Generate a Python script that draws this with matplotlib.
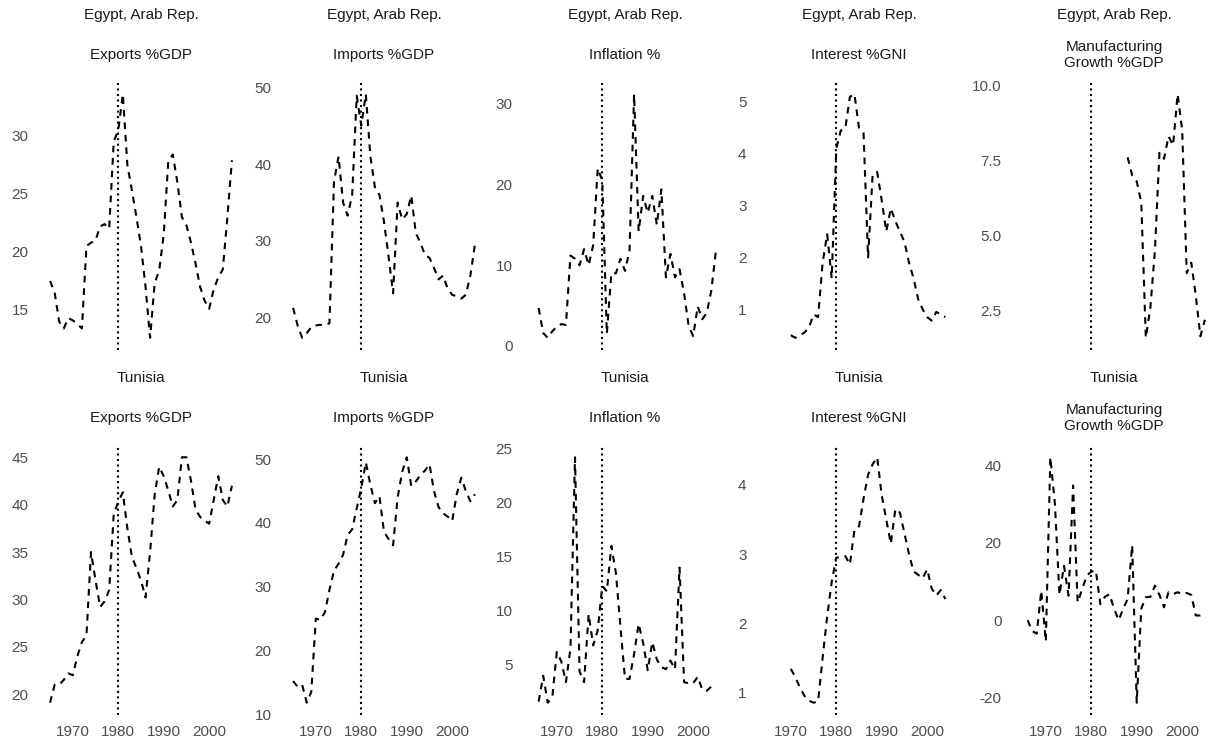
import matplotlib
matplotlib.use("Agg")
import matplotlib.pyplot as plt
import numpy as np

plt.rcParams["font.family"] = ["Liberation Sans", "DejaVu Sans"]
plt.rcParams["axes.unicode_minus"] = False

W, H = 1214, 742

countries = ["Egypt, Arab Rep.", "Tunisia"]
indicators = ["Exports %GDP", "Imports %GDP", "Inflation %", "Interest %GNI",
              "Manufacturing\nGrowth %GDP"]

# --- Egypt, Arab Rep. ---
egy_exports_start = 1965
egy_exports = [17.5, 16.5, 14.0, 13.4, 14.3, 14.1, 13.8, 13.4, 20.5, 20.8,
               21.0, 22.2, 22.4, 22.0, 29.5, 30.5, 33.6, 27.5, 25.3, 23.0,
               20.5, 17.0, 12.6, 17.3, 18.4, 21.5, 27.8, 28.4, 26.0, 23.0,
               22.3, 20.8, 19.0, 17.0, 15.8, 15.1, 16.8, 17.8, 18.5, 23.0, 27.9]
egy_imports_start = 1965
egy_imports = [21.3, 19.0, 17.4, 18.0, 18.8, 19.0, 19.1, 19.0, 19.3, 37.7,
               41.0, 35.0, 33.3, 36.0, 48.9, 45.0, 49.1, 41.0, 37.0, 36.0,
               32.5, 28.0, 23.2, 35.0, 32.8, 33.5, 35.9, 31.0, 29.8, 28.2,
               27.8, 26.5, 25.0, 25.5, 23.8, 23.0, 22.8, 22.5, 23.0, 25.5, 29.5]
egy_inflation_start = 1966
egy_inflation = [4.7, 1.6, 1.0, 1.8, 2.4, 2.7, 2.6, 11.2, 10.8, 10.0,
                 12.0, 10.0, 12.5, 22.0, 20.5, 1.5, 9.0, 9.0, 10.8, 9.3,
                 11.8, 31.2, 14.2, 18.6, 16.5, 18.6, 15.0, 19.4, 8.5, 11.4,
                 8.5, 9.5, 6.5, 2.5, 1.2, 4.9, 3.3, 4.1, 6.9, 11.8]
egy_interest_start = 1970
egy_interest = [0.5, 0.45, 0.5, 0.55, 0.65, 0.9, 0.85, 1.9, 2.45, 1.6,
                4.1, 4.45, 4.5, 5.1, 5.15, 4.5, 4.4, 2.0, 3.6, 3.65,
                3.1, 2.5, 2.95, 2.7, 2.5, 2.3, 1.9, 1.6, 1.2, 1.0,
                0.85, 0.78, 0.95, 0.9, 0.85]
egy_manuf_start = 1988
egy_manuf = [7.6, 7.0, 6.8, 6.1, 1.6, 2.6, 4.5, 7.75, 7.55, 8.3,
             8.0, 9.7, 8.5, 3.75, 4.1, 3.0, 1.65, 2.2]

# --- Tunisia ---
tun_exports_start = 1965
tun_exports = [19.1, 21.0, 21.0, 21.5, 22.2, 22.0, 24.0, 25.5, 26.2, 35.0,
               32.0, 29.2, 29.8, 31.0, 39.0, 40.3, 41.3, 37.5, 34.5, 33.3,
               32.0, 30.2, 35.0, 41.0, 44.0, 43.0, 41.5, 39.8, 40.5, 45.0,
               45.0, 42.5, 39.5, 38.7, 38.3, 38.0, 40.5, 43.0, 40.5, 39.8, 42.0]
tun_imports_start = 1965
tun_imports = [15.2, 14.3, 14.6, 11.8, 13.5, 25.0, 24.8, 26.0, 29.5, 32.5,
               33.6, 35.0, 38.1, 39.0, 42.3, 45.5, 49.5, 46.0, 43.1, 44.2,
               38.6, 37.5, 36.5, 44.0, 48.0, 50.3, 45.8, 46.5, 47.5, 48.2,
               49.2, 45.0, 42.5, 41.5, 41.0, 40.3, 44.5, 47.1, 45.0, 43.4, 44.5]
tun_inflation_start = 1966
tun_inflation = [1.6, 4.0, 1.5, 2.0, 6.2, 5.3, 3.4, 6.5, 24.2, 4.4,
                 3.4, 9.7, 6.8, 8.2, 12.3, 11.8, 16.0, 13.5, 8.5, 3.7,
                 3.7, 6.0, 8.8, 7.0, 4.5, 7.1, 5.5, 4.8, 4.6, 5.4,
                 4.6, 14.0, 3.4, 3.3, 3.3, 3.9, 2.7, 2.6, 3.0]
tun_interest_start = 1970
tun_interest = [1.34, 1.22, 1.07, 0.95, 0.88, 0.85, 0.87, 1.5, 2.1, 2.6,
                2.95, 2.95, 2.97, 2.85, 3.35, 3.4, 3.8, 4.15, 4.3, 4.4,
                3.85, 3.5, 3.15, 3.65, 3.6, 3.3, 3.0, 2.75, 2.7, 2.65,
                2.78, 2.5, 2.4, 2.48, 2.35]
tun_manuf_start = 1966
tun_manuf = [0.0, -2.8, -3.5, 7.6, -5.5, 42.0, 30.0, 6.5, 14.0, 6.3,
             34.7, 4.6, 8.0, 11.5, 12.5, 12.8, 4.1, 6.0, 6.7, 3.0,
             0.0, 2.8, 5.5, 19.3, -21.3, 3.0, 5.9, 6.0, 8.9, 6.5,
             3.3, 7.2, 6.7, 7.2, 6.7, 7.0, 6.5, 1.2, 1.2, 1.5]

# y tick values per panel
egy_yticks = [[15, 20, 25, 30], [20, 30, 40, 50], [0, 10, 20, 30],
              [1, 2, 3, 4, 5], [2.5, 5.0, 7.5, 10.0]]
tun_yticks = [[20, 25, 30, 35, 40, 45], [10, 20, 30, 40, 50],
              [5, 10, 15, 20, 25], [1, 2, 3, 4], [-20, 0, 20, 40]]
x_ticks = [1970, 1980, 1990, 2000]
break_year = 1980

rows = [
    [(egy_exports_start, egy_exports), (egy_imports_start, egy_imports),
     (egy_inflation_start, egy_inflation), (egy_interest_start, egy_interest),
     (egy_manuf_start, egy_manuf)],
    [(tun_exports_start, tun_exports), (tun_imports_start, tun_imports),
     (tun_inflation_start, tun_inflation), (tun_interest_start, tun_interest),
     (tun_manuf_start, tun_manuf)],
]
yticks = [egy_yticks, tun_yticks]
decimal_cols = {4}  # manufacturing top row shows one decimal

# axes placement (pixels)
col_left = [41, 284, 525, 759, 1014]
col_w = 200
row_top = [82, 445]
row_h = [268, 270]

fig = plt.figure(figsize=(W / 100, H / 100), dpi=100)
fig.patch.set_facecolor("white")

for r in range(2):
    for c in range(5):
        left = col_left[c] / W
        bottom = 1 - (row_top[r] + row_h[r]) / H
        ax = fig.add_axes([left, bottom, col_w / W, row_h[r] / H])
        start, vals = rows[r][c]
        yrs = np.arange(start, start + len(vals))
        ax.plot(yrs, vals, color="black", lw=1.5, ls=(0, (3.2, 2.8)))
        ax.axvline(break_year, color="black", lw=1.5, ls=":")
        ax.set_xlim(1963, 2007)
        ax.set_yticks(yticks[r][c])
        if r == 0 and c in decimal_cols:
            ax.set_yticklabels([f"{v:.1f}" for v in yticks[r][c]])
        ax.set_xticks(x_ticks)
        if r == 0:
            ax.set_xticklabels([])
        for s in ax.spines.values():
            s.set_visible(False)
        ax.tick_params(axis="both", length=0, labelsize=11, labelcolor="#4d4d4d")
        ax.tick_params(axis="y", pad=9)
        ax.tick_params(axis="x", pad=7)
        ax.annotate(countries[r], xy=(0.5, 1), xycoords="axes fraction",
                    xytext=(0, 67), textcoords="offset pixels",
                    ha="center", va="center", fontsize=11, color="#1a1a1a")
        ax.annotate(indicators[c], xy=(0.5, 1), xycoords="axes fraction",
                    xytext=(0, 27), textcoords="offset pixels",
                    ha="center", va="center", fontsize=11, color="#1a1a1a",
                    linespacing=1.1)

fig.savefig("out.png", dpi=100)
